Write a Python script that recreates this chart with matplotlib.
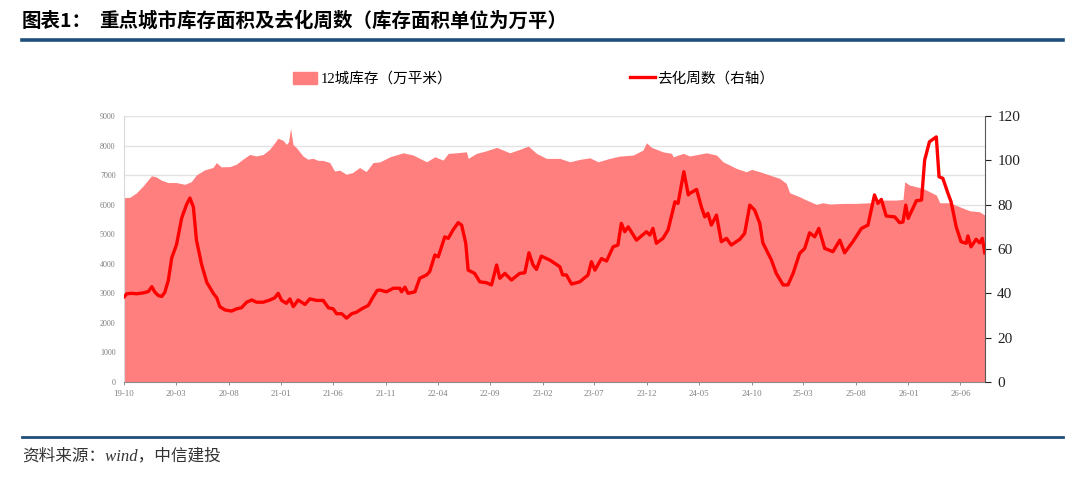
import matplotlib
matplotlib.use("Agg")
import matplotlib.pyplot as plt
import matplotlib.dates as mdates
from matplotlib.patches import Patch
from matplotlib.lines import Line2D
import pandas as pd

plt.rcParams['font.family'] = ['Liberation Serif', 'Noto Sans CJK SC', 'DejaVu Sans']

# ---- data ----
inv_dates = [
    "2019-10-01", "2019-10-18", "2019-11-06", "2019-11-26", "2019-12-20", "2020-01-03",
    "2020-01-18", "2020-02-06", "2020-03-01", "2020-03-26", "2020-04-14", "2020-04-29",
    "2020-05-23", "2020-06-16", "2020-06-26", "2020-07-10", "2020-08-04", "2020-08-23",
    "2020-09-11", "2020-10-01", "2020-10-20", "2020-11-09", "2020-11-28", "2020-12-13",
    "2020-12-22", "2021-01-06", "2021-01-16", "2021-01-22", "2021-01-28", "2021-02-04",
    "2021-02-14", "2021-03-05", "2021-03-19", "2021-04-03", "2021-04-18", "2021-05-02",
    "2021-05-22", "2021-06-05", "2021-06-20", "2021-07-09", "2021-07-28", "2021-08-17",
    "2021-09-05", "2021-09-25", "2021-10-15", "2021-11-13", "2021-12-22", "2022-01-20",
    "2022-02-28", "2022-03-24", "2022-04-17", "2022-05-02", "2022-05-26", "2022-06-24",
    "2022-06-29", "2022-07-23", "2022-08-21", "2022-09-20", "2022-10-28", "2022-11-26",
    "2022-12-21", "2023-01-14", "2023-02-12", "2023-03-23", "2023-04-21", "2023-05-20",
    "2023-06-18", "2023-07-12", "2023-08-15", "2023-09-13", "2023-10-22", "2023-11-20",
    "2023-11-30", "2023-12-15", "2024-01-17", "2024-02-11", "2024-02-16", "2024-03-16",
    "2024-04-04", "2024-05-23", "2024-06-21", "2024-07-10", "2024-08-18", "2024-09-16",
    "2024-10-01", "2024-10-25", "2024-11-23", "2024-12-22", "2025-01-10", "2025-01-20",
    "2025-02-18", "2025-03-10", "2025-04-08", "2025-04-27", "2025-05-16", "2025-06-24",
    "2025-08-02", "2025-09-10", "2025-10-19", "2025-11-27", "2025-12-16", "2025-12-21",
    "2026-01-04", "2026-02-12", "2026-03-23", "2026-04-02", "2026-05-01", "2026-05-30",
    "2026-06-28", "2026-07-27", "2026-08-11",
]
inventory = [
    6240, 6250, 6400, 6640, 6980, 6940,
    6830, 6750, 6750, 6690, 6780, 7010,
    7180, 7260, 7425, 7280, 7290, 7370,
    7540, 7700, 7650, 7700, 7875, 8100,
    8250, 8180, 8040, 8130, 8580, 8040,
    7930, 7650, 7540, 7570, 7500, 7500,
    7425, 7140, 7170, 7030, 7090, 7260,
    7120, 7425, 7450, 7620, 7757, 7680,
    7453, 7622, 7510, 7737, 7757, 7790,
    7567, 7737, 7825, 7940, 7757, 7872,
    7984, 7737, 7567, 7567, 7453, 7534,
    7588, 7453, 7567, 7645, 7680, 7848,
    8096, 7940, 7790, 7737, 7622, 7737,
    7650, 7757, 7680, 7453, 7229, 7115,
    7195, 7115, 7003, 6891, 6722, 6404,
    6269, 6157, 6011, 6066, 6022, 6044,
    6044, 6066, 6157, 6157, 6180, 6776,
    6664, 6553, 6326, 6066, 6066, 5930,
    5795, 5761, 5649,
]

wk_dates = [
    "2019-10-02", "2019-10-09", "2019-10-23", "2019-11-07", "2019-11-26", "2019-12-11",
    "2019-12-21", "2019-12-30", "2020-01-09", "2020-01-19", "2020-01-28", "2020-02-07",
    "2020-02-17", "2020-03-02", "2020-03-17", "2020-03-31", "2020-04-10", "2020-04-20",
    "2020-04-29", "2020-05-14", "2020-05-29", "2020-06-17", "2020-06-27", "2020-07-06",
    "2020-07-21", "2020-08-09", "2020-08-24", "2020-09-07", "2020-09-22", "2020-10-07",
    "2020-10-21", "2020-11-09", "2020-11-29", "2020-12-13", "2020-12-23", "2021-01-02",
    "2021-01-16", "2021-01-26", "2021-02-05", "2021-02-19", "2021-03-11", "2021-03-25",
    "2021-04-14", "2021-05-03", "2021-05-18", "2021-06-01", "2021-06-11", "2021-06-26",
    "2021-07-10", "2021-07-25", "2021-08-08", "2021-08-23", "2021-09-11", "2021-09-25",
    "2021-10-07", "2021-10-15", "2021-11-03", "2021-11-23", "2021-12-12", "2021-12-17",
    "2021-12-27", "2022-01-05", "2022-01-25", "2022-02-08", "2022-02-28", "2022-03-09",
    "2022-03-24", "2022-04-03", "2022-04-22", "2022-05-02", "2022-05-16", "2022-05-31",
    "2022-06-10", "2022-06-22", "2022-06-29", "2022-07-18", "2022-08-02", "2022-08-21",
    "2022-09-05", "2022-09-20", "2022-09-29", "2022-10-14", "2022-11-02", "2022-11-26",
    "2022-12-11", "2022-12-23", "2023-01-04", "2023-01-14", "2023-01-28", "2023-02-22",
    "2023-03-23", "2023-03-31", "2023-04-11", "2023-04-26", "2023-05-20", "2023-06-13",
    "2023-06-23", "2023-07-03", "2023-07-22", "2023-08-06", "2023-08-25", "2023-09-08",
    "2023-09-18", "2023-09-28", "2023-10-08", "2023-11-01", "2023-11-30", "2023-12-10",
    "2023-12-19", "2023-12-29", "2024-01-17", "2024-02-01", "2024-02-21", "2024-03-01",
    "2024-03-18", "2024-03-31", "2024-04-04", "2024-04-24", "2024-05-08", "2024-05-18",
    "2024-05-27", "2024-06-06", "2024-06-21", "2024-07-05", "2024-07-20", "2024-08-03",
    "2024-08-28", "2024-09-11", "2024-09-26", "2024-10-10", "2024-10-25", "2024-11-03",
    "2024-11-28", "2024-12-12", "2025-01-01", "2025-01-15", "2025-01-30", "2025-02-18",
    "2025-03-05", "2025-03-19", "2025-04-03", "2025-04-15", "2025-05-02", "2025-05-26",
    "2025-06-15", "2025-06-29", "2025-07-23", "2025-08-17", "2025-09-05", "2025-09-24",
    "2025-10-04", "2025-10-14", "2025-10-28", "2025-11-22", "2025-12-06", "2025-12-16",
    "2025-12-24", "2025-12-31", "2026-01-24", "2026-02-08", "2026-02-17", "2026-03-03",
    "2026-03-23", "2026-03-31", "2026-04-11", "2026-04-26", "2026-05-05", "2026-05-20",
    "2026-06-03", "2026-06-18", "2026-06-23", "2026-07-02", "2026-07-17", "2026-07-27",
    "2026-08-04", "2026-08-11",
]
weeks = [
    38.5, 39.8, 40.0, 39.8, 40.2, 40.8,
    43.0, 40.5, 39.0, 38.6, 40.5, 45.8,
    56.0, 62.0, 74.0, 80.0, 83.0, 79.0,
    64.0, 53.0, 45.0, 40.0, 38.0, 34.0,
    32.5, 32.0, 33.0, 33.5, 36.0, 37.0,
    36.0, 36.0, 37.0, 38.0, 40.0, 36.8,
    35.5, 37.5, 34.0, 37.0, 35.0, 37.5,
    36.8, 36.8, 33.5, 33.0, 30.8, 30.8,
    28.8, 30.8, 31.5, 33.0, 34.5, 38.3,
    41.3, 41.5, 40.7, 42.3, 42.3, 40.7,
    42.8, 40.0, 40.7, 46.8, 48.3, 49.8,
    57.3, 56.5, 65.5, 64.8, 68.6, 71.9,
    70.8, 62.6, 50.5, 49.0, 45.2, 44.8,
    43.8, 52.8, 46.8, 49.0, 46.0, 49.0,
    49.3, 58.3, 52.8, 50.8, 56.8, 55.0,
    52.0, 48.3, 48.3, 44.2, 45.2, 48.3,
    54.3, 50.5, 55.7, 54.6, 61.0, 61.8,
    71.6, 67.8, 70.0, 64.0, 67.8, 66.3,
    69.3, 62.6, 64.8, 68.6, 81.3, 80.6,
    94.9, 84.4, 85.1, 86.9, 79.0, 74.5,
    76.1, 70.8, 75.3, 63.3, 64.8, 61.8,
    64.4, 67.1, 79.8, 77.6, 71.6, 62.8,
    55.0, 49.0, 43.8, 43.8, 49.0, 58.0,
    60.3, 67.3, 65.5, 69.3, 60.3, 58.8,
    64.0, 58.3, 63.3, 69.3, 70.8, 84.4,
    80.6, 82.4, 74.9, 74.5, 71.9, 72.2,
    79.8, 73.8, 81.8, 82.1, 100.1, 108.4,
    110.6, 92.6, 91.9, 85.1, 81.3, 70.0,
    63.3, 62.6, 65.9, 61.0, 64.4, 62.8,
    64.8, 58.3,
]

inv_dates = pd.to_datetime(inv_dates)
wk_dates = pd.to_datetime(wk_dates)
tick_dates = pd.date_range("2019-10-01", "2026-06-01", freq="5MS")

# ---- figure ----
fig = plt.figure(figsize=(10.8, 4.8), dpi=100)
ax = fig.add_axes([0.1148, 0.2042, 0.797, 0.554])
ax2 = ax.twinx()

ax.fill_between(inv_dates, inventory, color="#FF7F7F", linewidth=0, zorder=2)
ax2.plot(wk_dates, weeks, color="#FF0000", linewidth=2.4, zorder=3)

ax.set_xlim(inv_dates[0], inv_dates[-1])
ax.set_ylim(0, 9000)
ax.set_yticks(range(0, 9001, 1000))
ax2.set_ylim(0, 120)
ax2.set_yticks(range(0, 121, 20))

ax.grid(axis="y", color="#e3e3e3", linewidth=1.0, zorder=0)
ax.set_axisbelow(True)

ax.set_xticks(tick_dates)
ax.xaxis.set_major_formatter(mdates.DateFormatter("%y-%m"))
ax.tick_params(axis="x", labelsize=6.3, colors="#7f7f7f", length=2.5, width=0.6, pad=3)
ax.tick_params(axis="y", labelsize=5.8, colors="#7f7f7f", length=0, pad=6)
ax2.tick_params(axis="y", labelsize=11, colors="#222222", length=4, width=0.8, pad=5)

for a in (ax, ax2):
    a.spines["top"].set_visible(False)
ax.spines["left"].set_color("#d9d9d9")
ax.spines["bottom"].set_color("#8c8c8c")
ax.spines["right"].set_visible(False)
ax2.spines["left"].set_visible(False)
ax2.spines["bottom"].set_visible(False)
ax2.spines["right"].set_color("#595959")

# legend above the plot
handles = [Patch(color="#FF7F7F"), Line2D([0], [0], color="#FF0000", linewidth=2.4)]
fig.legend(handles, ["12城库存（万平米）", "去化周数（右轴）"], loc="center",
           bbox_to_anchor=(0.494, 0.836), ncol=2, frameon=False, fontsize=10.5,
           handlelength=1.7, handleheight=0.9, columnspacing=12.2, handletextpad=0.2)

# header and footer
fig.text(0.020, 0.956, "图表1：", fontsize=14, fontweight="bold", va="center",
         family=["Noto Sans CJK SC"])
fig.text(0.092, 0.956, "重点城市库存面积及去化周数（库存面积单位为万平）", fontsize=14,
         fontweight="bold", va="center", family=["Noto Sans CJK SC"])
fig.add_artist(Line2D([0.020, 0.984], [0.917, 0.917], color="#1F4E79", linewidth=2.6))
fig.add_artist(Line2D([0.020, 0.984], [0.090, 0.090], color="#1F4E79", linewidth=2.0))
fig.text(0.021, 0.050, "资料来源：wind，中信建投", fontsize=12, style="italic",
         va="center", color="#333333")

fig.savefig("out.png", dpi=100)
